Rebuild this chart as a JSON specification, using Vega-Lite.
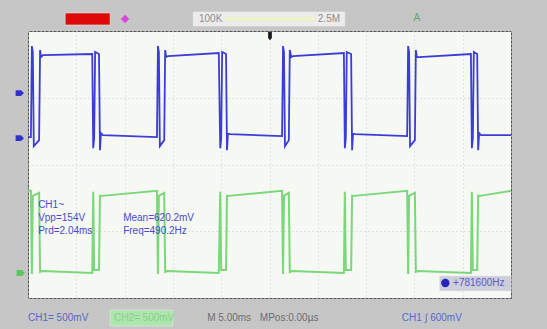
{
  "$schema": "https://vega.github.io/schema/vega-lite/v6.json",
  "width": 483,
  "height": 267,
  "autosize": {"type": "none"},
  "padding": {"left": 28, "top": 31, "right": 36, "bottom": 31},
  "background": "#c6c6c6",
  "view": {"fill": "#f6f8f4", "stroke": "#555555", "strokeWidth": 1},
  "config": {
    "axis": {"labels": false, "ticks": false, "domain": false, "title": null, "grid": true, "gridColor": "#cfcfcf", "gridDash": [1, 3], "gridWidth": 1}
  },
  "resolve": {"scale": {"color": "independent", "shape": "independent"}},
  "datasets": {
    "blue": [
      {"t": -5.00, "v": 0.82}, {"t": -4.94, "v": 0.82}, {"t": -4.92, "v": 3.55}, {"t": -4.90, "v": 3.37}, {"t": -4.88, "v": 0.55}, {"t": -4.77, "v": 0.73}, {"t": -4.75, "v": 3.43}, {"t": -4.73, "v": 3.22}, {"t": -4.69, "v": 3.28},
      {"t": -3.67, "v": 3.31}, {"t": -3.65, "v": 0.49}, {"t": -3.63, "v": 0.79}, {"t": -3.61, "v": 3.37}, {"t": -3.53, "v": 3.31}, {"t": -3.51, "v": 0.43}, {"t": -3.49, "v": 0.94}, {"t": -3.45, "v": 0.88},
      {"t": -2.33, "v": 0.82}, {"t": -2.31, "v": 3.55}, {"t": -2.29, "v": 3.37}, {"t": -2.27, "v": 0.55}, {"t": -2.18, "v": 0.73}, {"t": -2.16, "v": 3.43}, {"t": -2.14, "v": 3.22}, {"t": -2.10, "v": 3.25},
      {"t": -1.05, "v": 3.34}, {"t": -1.02, "v": 0.49}, {"t": -1.00, "v": 0.79}, {"t": -0.98, "v": 3.37}, {"t": -0.90, "v": 3.31}, {"t": -0.88, "v": 0.43}, {"t": -0.86, "v": 0.94}, {"t": -0.82, "v": 0.91},
      {"t": 0.26, "v": 0.85}, {"t": 0.28, "v": 3.55}, {"t": 0.30, "v": 3.37}, {"t": 0.32, "v": 0.55}, {"t": 0.40, "v": 0.73}, {"t": 0.42, "v": 3.43}, {"t": 0.45, "v": 3.22}, {"t": 0.49, "v": 3.25},
      {"t": 1.54, "v": 3.34}, {"t": 1.56, "v": 0.49}, {"t": 1.58, "v": 0.79}, {"t": 1.60, "v": 3.37}, {"t": 1.69, "v": 3.31}, {"t": 1.71, "v": 0.43}, {"t": 1.73, "v": 0.94}, {"t": 1.77, "v": 0.91},
      {"t": 2.85, "v": 0.85}, {"t": 2.87, "v": 3.55}, {"t": 2.89, "v": 3.37}, {"t": 2.91, "v": 0.55}, {"t": 3.01, "v": 0.73}, {"t": 3.03, "v": 3.43}, {"t": 3.05, "v": 3.22}, {"t": 3.10, "v": 3.22},
      {"t": 4.17, "v": 3.31}, {"t": 4.19, "v": 0.49}, {"t": 4.21, "v": 0.79}, {"t": 4.23, "v": 3.37}, {"t": 4.30, "v": 3.31}, {"t": 4.32, "v": 0.43}, {"t": 4.34, "v": 0.94}, {"t": 4.38, "v": 0.88},
      {"t": 5.00, "v": 0.88}
    ],
    "green": [
      {"t": -5.00, "v": -0.79}, {"t": -4.94, "v": -0.79}, {"t": -4.92, "v": -3.28}, {"t": -4.90, "v": -0.94}, {"t": -4.77, "v": -0.85}, {"t": -4.75, "v": -3.22}, {"t": -4.71, "v": -3.19},
      {"t": -3.67, "v": -3.25}, {"t": -3.65, "v": -0.82}, {"t": -3.63, "v": -3.16}, {"t": -3.53, "v": -3.16}, {"t": -3.51, "v": -0.94}, {"t": -3.47, "v": -0.94},
      {"t": -2.33, "v": -0.79}, {"t": -2.31, "v": -3.28}, {"t": -2.29, "v": -0.94}, {"t": -2.18, "v": -0.85}, {"t": -2.16, "v": -3.22}, {"t": -2.12, "v": -3.19},
      {"t": -1.05, "v": -3.25}, {"t": -1.02, "v": -0.82}, {"t": -1.00, "v": -3.16}, {"t": -0.90, "v": -3.16}, {"t": -0.88, "v": -0.94}, {"t": -0.84, "v": -0.94},
      {"t": 0.26, "v": -0.79}, {"t": 0.28, "v": -3.28}, {"t": 0.30, "v": -0.94}, {"t": 0.40, "v": -0.85}, {"t": 0.42, "v": -3.22}, {"t": 0.47, "v": -3.19},
      {"t": 1.54, "v": -3.25}, {"t": 1.56, "v": -0.82}, {"t": 1.58, "v": -3.16}, {"t": 1.69, "v": -3.16}, {"t": 1.71, "v": -0.94}, {"t": 1.75, "v": -0.94},
      {"t": 2.85, "v": -0.79}, {"t": 2.87, "v": -3.28}, {"t": 2.89, "v": -0.94}, {"t": 3.01, "v": -0.85}, {"t": 3.03, "v": -3.22}, {"t": 3.07, "v": -3.19},
      {"t": 4.17, "v": -3.25}, {"t": 4.19, "v": -0.82}, {"t": 4.21, "v": -3.16}, {"t": 4.30, "v": -3.16}, {"t": 4.32, "v": -0.94}, {"t": 4.36, "v": -0.94},
      {"t": 5.00, "v": -0.79}
    ],
    "boxes": [
      {"item": "run", "x1": -4.23, "x2": -3.30, "y1": 4.18, "y2": 4.54},
      {"item": "bar", "x1": -1.58, "x2": 1.56, "y1": 4.15, "y2": 4.57},
      {"item": "slider", "x1": -0.92, "x2": 0.94, "y1": 4.30, "y2": 4.42},
      {"item": "ch2", "x1": -3.30, "x2": -2.00, "y1": -4.36, "y2": -4.84},
      {"item": "freq", "x1": 3.52, "x2": 5.00, "y1": -3.34, "y2": -3.79}
    ],
    "labels": [
      {"role": "meas", "x": -4.79, "y": -1.21, "text": "CH1~"},
      {"role": "meas", "x": -4.79, "y": -1.60, "text": "Vpp=154V"},
      {"role": "meas", "x": -4.79, "y": -2.00, "text": "Prd=2.04ms"},
      {"role": "meas", "x": -3.03, "y": -1.60, "text": "Mean=620.2mV"},
      {"role": "meas", "x": -3.03, "y": -2.00, "text": "Freq=490.2Hz"},
      {"role": "ch1", "x": -5.00, "y": -4.60, "text": "CH1= 500mV"},
      {"role": "ch2", "x": -3.22, "y": -4.60, "text": "CH2= 500mV"},
      {"role": "time", "x": -1.29, "y": -4.60, "text": "M 5.00ms"},
      {"role": "time", "x": -0.20, "y": -4.60, "text": "MPos:0.00µs"},
      {"role": "ch1", "x": 2.74, "y": -4.60, "text": "CH1 ∫ 600mV"},
      {"role": "freq", "x": 3.80, "y": -3.55, "text": "+781600Hz"},
      {"role": "bar", "x": -1.46, "y": 4.36, "text": "100K"},
      {"role": "bar", "x": 1.00, "y": 4.36, "text": "2.5M"},
      {"role": "icon", "x": 2.98, "y": 4.39, "text": "A"}
    ],
    "markers": [
      {"kind": "trig", "x": 0.01, "y": 3.85},
      {"kind": "ch1", "x": -5.17, "y": 2.14},
      {"kind": "ch1", "x": -5.17, "y": 0.79},
      {"kind": "ch2", "x": -5.15, "y": -3.25},
      {"kind": "pen", "x": -2.99, "y": 4.36},
      {"kind": "fm", "x": 3.64, "y": -3.55}
    ]
  },
  "layer": [
    {
      "data": {"name": "boxes"},
      "mark": {"type": "rect", "clip": false, "stroke": "#e8e8e8", "strokeWidth": 0.6},
      "encoding": {
        "x": {"field": "x1", "type": "quantitative", "scale": {"domain": [-5, 5], "nice": false, "zero": false}, "axis": {"values": [-5, -4, -3, -2, -1, 0, 1, 2, 3, 4, 5]}},
        "x2": {"field": "x2"},
        "y": {"field": "y1", "type": "quantitative", "scale": {"domain": [-4, 4], "nice": false, "zero": false}, "axis": {"values": [-4, -3, -2, -1, 0, 1, 2, 3, 4]}},
        "y2": {"field": "y2"},
        "color": {"field": "item", "type": "nominal", "legend": null, "scale": {"domain": ["run", "bar", "slider", "ch2", "freq"], "range": ["#de0a0a", "#ececec", "#eef4c4", "#ade6ad", "#cdcddc"]}}
      }
    },
    {
      "mark": {"type": "rule", "color": "#b4b4b4", "strokeDash": [1, 2], "strokeWidth": 1},
      "encoding": {"y": {"datum": 0, "type": "quantitative", "scale": {"domain": [-4, 4], "nice": false, "zero": false}}}
    },
    {
      "mark": {"type": "rule", "color": "#b4b4b4", "strokeDash": [1, 2], "strokeWidth": 1},
      "encoding": {"x": {"datum": 0, "type": "quantitative", "scale": {"domain": [-5, 5], "nice": false, "zero": false}}}
    },
    {
      "data": {"name": "green"},
      "mark": {"type": "line", "color": "#7ad87a", "strokeWidth": 2, "clip": true},
      "encoding": {
        "x": {"field": "t", "type": "quantitative", "scale": {"domain": [-5, 5], "nice": false, "zero": false}},
        "y": {"field": "v", "type": "quantitative", "scale": {"domain": [-4, 4], "nice": false, "zero": false}}
      }
    },
    {
      "data": {"name": "blue"},
      "mark": {"type": "line", "color": "#3c3cd6", "strokeWidth": 1.8, "clip": true},
      "encoding": {
        "x": {"field": "t", "type": "quantitative", "scale": {"domain": [-5, 5], "nice": false, "zero": false}},
        "y": {"field": "v", "type": "quantitative", "scale": {"domain": [-4, 4], "nice": false, "zero": false}}
      }
    },
    {
      "data": {"name": "labels"},
      "mark": {"type": "text", "align": "left", "baseline": "middle", "fontSize": 10, "font": "Liberation Sans", "clip": false},
      "encoding": {
        "x": {"field": "x", "type": "quantitative", "scale": {"domain": [-5, 5], "nice": false, "zero": false}},
        "y": {"field": "y", "type": "quantitative", "scale": {"domain": [-4, 4], "nice": false, "zero": false}},
        "text": {"field": "text"},
        "color": {"field": "role", "type": "nominal", "legend": null, "scale": {"domain": ["meas", "ch1", "ch2", "time", "freq", "bar", "icon"], "range": ["#4a4acc", "#5668c8", "#8ccf8c", "#6e6e6e", "#5a5ac8", "#8c8c8c", "#5aaa74"]}}
      }
    },
    {
      "data": {"name": "markers"},
      "mark": {"type": "point", "filled": true, "size": 70, "opacity": 1, "clip": false},
      "encoding": {
        "x": {"field": "x", "type": "quantitative", "scale": {"domain": [-5, 5], "nice": false, "zero": false}},
        "y": {"field": "y", "type": "quantitative", "scale": {"domain": [-4, 4], "nice": false, "zero": false}},
        "shape": {"field": "kind", "type": "nominal", "legend": null, "scale": {"domain": ["trig", "ch1", "ch2", "pen", "fm"], "range": ["M-0.45,-1L0.45,-1L0.45,0.5L0,1L-0.45,0.5Z", "M-1,-0.7L0.3,-0.7L1,0L0.3,0.7L-1,0.7Z", "M-1,-0.7L0.3,-0.7L1,0L0.3,0.7L-1,0.7Z", "diamond", "circle"]}},
        "color": {"field": "kind", "type": "nominal", "legend": null, "scale": {"domain": ["trig", "ch1", "ch2", "pen", "fm"], "range": ["#1a1a1a", "#3232c8", "#5cc65c", "#d846d8", "#2626b8"]}}
      }
    }
  ]
}
